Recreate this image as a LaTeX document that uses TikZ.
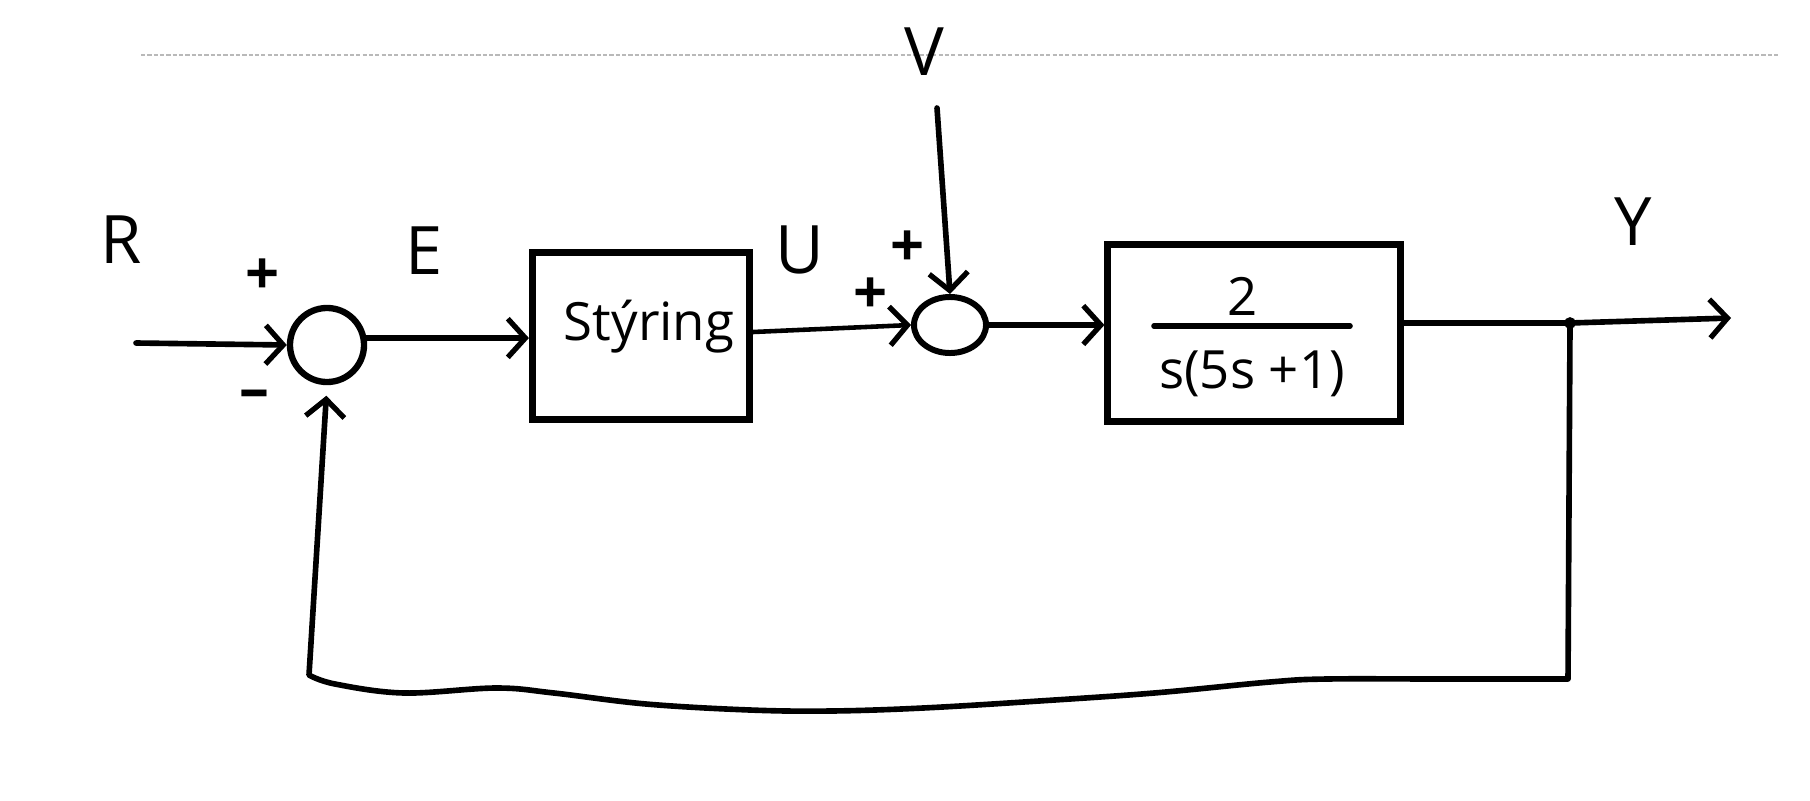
\documentclass[tikz,border=0pt]{standalone}
\usepackage{fontspec}
\setmainfont{Open Sans}
\usetikzlibrary{arrows.meta,shapes.geometric}
\begin{document}
\begin{tikzpicture}[x=0.01cm,y=-0.01cm,
  wire/.style={line width=1.6pt, line cap=round, line join=round},
  arr/.style={wire, -{Straight Barb[length=5pt,width=11pt,line width=1.5pt]}},
  block/.style={draw, line width=2pt, inner sep=0pt},
  sumc/.style={draw, circle, line width=1.8pt, minimum size=0.74cm, inner sep=0pt},
  sume/.style={draw, ellipse, line width=1.7pt, minimum width=0.72cm, minimum height=0.56cm, inner sep=0pt},
  lbl/.style={font=\fontsize{19}{21}\selectfont, inner sep=0pt},
  sgn/.style={font=\fontsize{17}{19}\selectfont\bfseries, inner sep=0pt},
  txt/.style={font=\fontsize{15}{17}\selectfont, inner sep=0pt},
]
\fill[white] (0,0) rectangle (1810,800);
\useasboundingbox (0,0) rectangle (1810,800);

% faint ruled line of the paper
\draw[gray!55, line width=0.5pt, dash pattern=on 1.2pt off 0.6pt] (141,55) -- (1778,55);

% blocks and summing points
\node[sumc] (sum1) at (327,345) {};
\node[block, minimum width=2.17cm, minimum height=1.66cm] (styr) at (641,336) {};
\node[txt] (styrtxt) at (649,327) {Stýring};
\node[sume] (sum2) at (950,325) {};
\node[block, minimum width=2.92cm, minimum height=1.76cm] (plant) at (1254,333) {};
\node[txt] (num) at (1243,296) {2};
\coordinate (fracL) at (1154,326);
\coordinate (fracR) at (1350,326);
\draw[wire] (fracL) -- (fracR);
\node[txt] (den) at (1252,374) {s(5s +1)};

% labels
\node[lbl] (lR) at (121,240) {R};
\node[lbl] (lE) at (424,251) {E};
\node[lbl] (lU) at (800,250) {U};
\node[lbl] (lV) at (924,52) {V};
\node[lbl] (lY) at (1633,222) {Y};
\node[sgn] (p1) at (263,277) {+};
\node[sgn] (m1) at (254,400) {–};
\node[sgn] (p2) at (871,296) {+};
\node[sgn] (p3) at (908,249) {+};

% connectors
\coordinate (rin) at (136,343);
\draw[arr] (rin) -- (sum1.west);
\draw[arr] (sum1.10) -- (sum1.10 -| styr.west);
\draw[arr, line width=1.3pt] ([yshift=0.04cm]styr.east) -- (sum2.west);
\coordinate (vtop) at (937,108);
\draw[arr] (vtop) -- (sum2.north);
\draw[arr] (sum2.east) -- (sum2.east -| plant.west);
\coordinate (branch) at (1570,323);
\coordinate (yout) at (1731,318);
\draw[wire] (plant.east |- branch) -- (branch);
\draw[arr] (branch) -- (yout);
\draw[line width=1pt, fill=white] (branch) circle[radius=4];
\coordinate (fbR) at (1568,679);
\coordinate (fbL) at (309,675);
\draw[arr, shorten >=3pt] (branch) -- (fbR) -- plot[smooth, tension=0.6] coordinates {(1568,679) (1443,679) (1327,679) (1270,682) (1154,693) (1039,701) (923,708) (831,711) (750,710) (646,704) (554,693) (496,688) (404,693) (335,684) (309,675)} -- (sum1.south);
\end{tikzpicture}
\end{document}
